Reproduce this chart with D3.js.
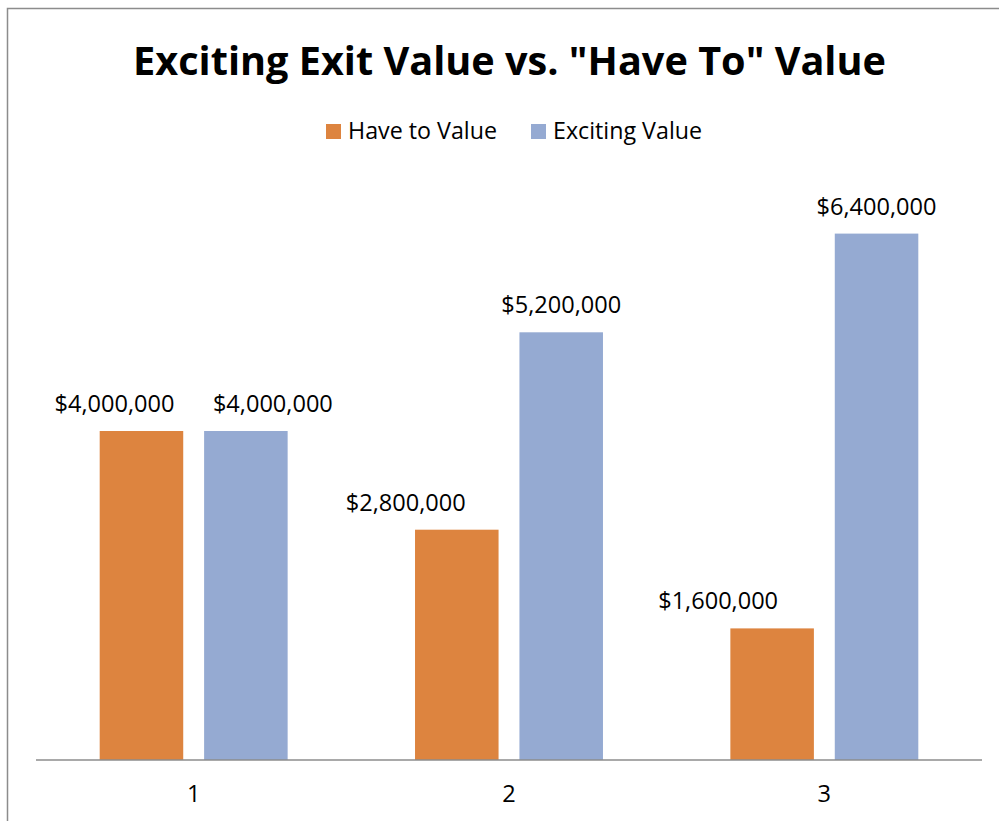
<!DOCTYPE html>
<meta charset="utf-8">
<script src="https://d3js.org/d3.v7.min.js"></script>
<style>
body { margin: 0; background: #fff; }
svg { display: block; font-family: "Open Sans", sans-serif; }
</style>
<div id="chart"></div>
<script>
// data
var categories = ["1", "2", "3"];
var seriesNames = ["Have to Value", "Exciting Value"];
var haveToValues = [4000000, 2800000, 1600000];
var excitingValues = [4000000, 5200000, 6400000];
var colors = ["#DD843F", "#95AAD2"];

var W = 999, H = 821;
var left = 36, right = 982, baseline = 760;

// labels were nudged by hand in the original, keep the same nudges
var labelShift = [[-27, 27], [-51, 0], [-54, 0]];

var svg = d3.select("#chart").append("svg")
    .attr("width", W).attr("height", H);

// frame
svg.append("rect")
    .attr("x", 7.5).attr("y", 8.5)
    .attr("width", W + 20).attr("height", H + 20)
    .attr("fill", "none").attr("stroke", "#8c8c8c").attr("stroke-width", 1.5);

// fit a text element's font size so it spans a target width
function fitWidth(sel, target) {
    var node = sel.node();
    var fs = parseFloat(sel.attr("font-size"));
    var w = node.getComputedTextLength();
    sel.attr("font-size", (fs * target / w).toFixed(2));
}

var title = svg.append("text")
    .attr("x", 509.5).attr("y", 75)
    .attr("text-anchor", "middle")
    .attr("font-weight", "bold")
    .attr("font-size", 40)
    .attr("fill", "#000")
    .text('Exciting Exit Value vs. "Have To" Value');
fitWidth(title, 753);

var x0 = d3.scaleBand().domain(categories).range([left, right]).padding(0);
var x1 = d3.scaleBand().domain(seriesNames).range([0, x0.bandwidth()])
    .paddingInner(0.2).paddingOuter(0.61);
var y = d3.scaleLinear().domain([0, 8000000]).range([baseline, 102]);

var rows = categories.map(function(c, i) {
    return { cat: c, i: i, vals: [haveToValues[i], excitingValues[i]] };
});

var groups = svg.selectAll(".grp").data(rows).enter().append("g")
    .attr("class", "grp")
    .attr("transform", function(d) { return "translate(" + x0(d.cat) + ",0)"; });

groups.selectAll("rect").data(function(d) {
    return d.vals.map(function(v, k) { return { v: v, k: k, i: d.i }; });
}).enter().append("rect")
    .attr("x", function(d) { return x1(seriesNames[d.k]); })
    .attr("y", function(d) { return y(d.v); })
    .attr("width", x1.bandwidth())
    .attr("height", function(d) { return baseline - y(d.v); })
    .attr("fill", function(d) { return colors[d.k]; });

var fmt = d3.format("$,");
var labels = groups.selectAll("text.lab").data(function(d) {
    return d.vals.map(function(v, k) { return { v: v, k: k, i: d.i }; });
}).enter().append("text")
    .attr("class", "lab")
    .attr("x", function(d) { return x1(seriesNames[d.k]) + x1.bandwidth() / 2 + labelShift[d.i][d.k]; })
    .attr("y", function(d) { return y(d.v) - 19; })
    .attr("text-anchor", "middle")
    .attr("font-size", 22)
    .attr("fill", "#000")
    .text(function(d) { return fmt(d.v); });
// same size for all labels, fit on the first
var probe = svg.append("text").attr("font-size", 22).text("$4,000,000");
var labSize = 22 * 120 / probe.node().getComputedTextLength();
probe.remove();
labels.attr("font-size", labSize.toFixed(2));

// x axis
var xAxis = svg.append("g")
    .attr("transform", "translate(0," + baseline + ")")
    .call(d3.axisBottom(x0).tickSize(0).tickPadding(0));
xAxis.select(".domain").attr("stroke", "#8c8c8c").attr("stroke-width", 1.5)
    .attr("d", "M" + left + ",0H" + right);
xAxis.selectAll("text")
    .attr("font-size", labSize.toFixed(2))
    .attr("font-family", "Open Sans, sans-serif")
    .attr("fill", "#000")
    .attr("dy", 0).attr("y", 42);

// legend
var legendX = [326, 531];
var legend = svg.selectAll(".leg").data(seriesNames).enter().append("g")
    .attr("class", "leg")
    .attr("transform", function(d, i) { return "translate(" + legendX[i] + ",124)"; });
legend.append("rect").attr("width", 15).attr("height", 15)
    .attr("fill", function(d, i) { return colors[i]; });
var legText = legend.append("text")
    .attr("x", 22).attr("y", 14.5)
    .attr("font-size", 22)
    .attr("fill", "#000")
    .text(function(d) { return d; });
var lw = legText.nodes()[0].getComputedTextLength();
legText.attr("font-size", (22 * 149 / lw).toFixed(2));
</script>
